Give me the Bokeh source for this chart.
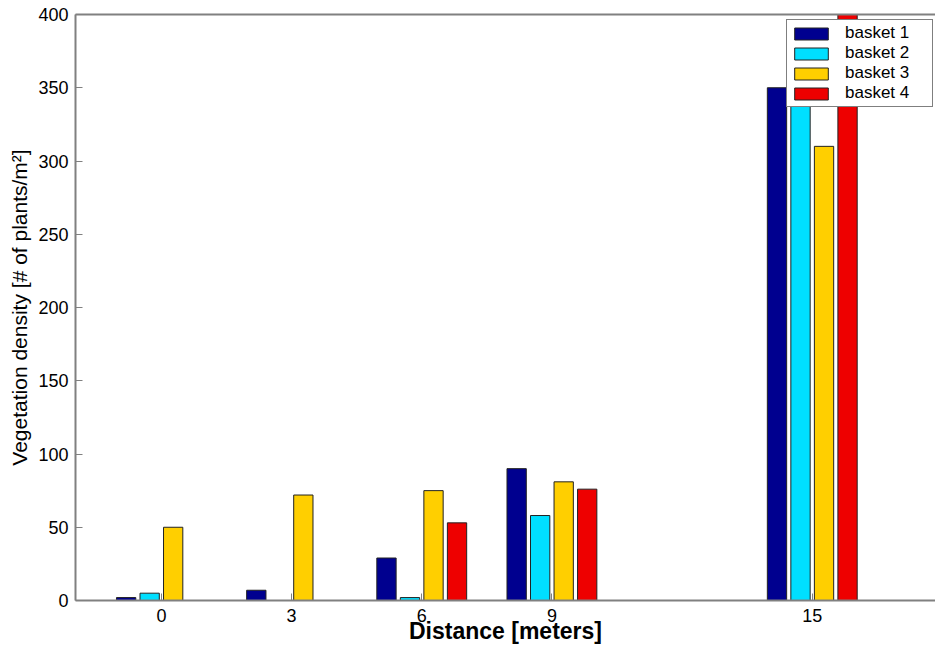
import numpy as np
from bokeh.plotting import figure
from bokeh.models import (Range1d, LinearAxis, FixedTicker, Legend, LegendItem)
from bokeh.embed import file_html
from bokeh.resources import INLINE

# ---- data ----
distances = [0, 3, 6, 9, 15]
tick_values = [0, 3, 6, 9, 15]
y_ticks = [0, 50, 100, 150, 200, 250, 300, 350, 400]
series_names = ["basket 1", "basket 2", "basket 3", "basket 4"]
basket1 = [2, 7, 29, 90, 350]
basket2 = [5, 0, 2, 58, 365]
basket3 = [50, 72, 75, 81, 310]
basket4 = [0, 0, 53, 76, 420]
colors = ["#00008F", "#00DFFF", "#FFCF00", "#EE0000"]

series = [basket1, basket2, basket3, basket4]

FONT = "Liberation Sans"

p = figure(width=935, height=646, output_backend="svg", toolbar_location=None,
           x_range=Range1d(-1.98, 17.84), y_range=Range1d(0, 400),
           min_border_left=75, min_border_right=0, min_border_top=14,
           min_border_bottom=45, x_axis_location=None, y_axis_location=None)
p.outline_line_color = None
p.xgrid.visible = False
p.ygrid.visible = False
p.background_fill_color = "white"
p.border_fill_color = "white"

step = 0.542
bar_w = 0.445
renderers = []
for i, (vals, col) in enumerate(zip(series, colors)):
    xs = np.array(distances, dtype=float) + (i - 1.5) * step
    r = p.vbar(x=xs, top=vals, bottom=0, width=bar_w, fill_color=col,
               line_color="#222222", line_width=1)
    renderers.append(r)

def style_axis(ax, ticks, show_labels=True):
    ax.ticker = FixedTicker(ticks=ticks)
    ax.axis_line_color = "#808080"
    ax.axis_line_width = 2
    ax.major_tick_line_color = "#808080"
    ax.major_tick_in = 7
    ax.major_tick_out = 0
    ax.minor_tick_line_color = None
    ax.major_label_text_font = FONT
    ax.major_label_text_font_size = "18px" if show_labels else "0px"
    ax.major_label_text_color = "black"
    ax.axis_label_text_font = FONT
    ax.axis_label_text_color = "black"

xaxis = LinearAxis()
style_axis(xaxis, tick_values)
xaxis.major_label_standoff = 8
xaxis.axis_label = "Distance [meters]"
xaxis.axis_label_text_font_style = "bold"
xaxis.axis_label_text_font_size = "23px"
xaxis.axis_label_standoff = -7
p.add_layout(xaxis, "below")

yaxis = LinearAxis()
style_axis(yaxis, y_ticks)
yaxis.major_label_standoff = 7
yaxis.axis_label = "Vegetation density [# of plants/m²]"
yaxis.axis_label_text_font_style = "normal"
yaxis.axis_label_text_font_size = "21px"
yaxis.axis_label_standoff = 4
p.add_layout(yaxis, "left")

top_axis = LinearAxis()
style_axis(top_axis, [], show_labels=False)
top_axis.major_label_standoff = 0
p.add_layout(top_axis, "above")

legend = Legend(items=[LegendItem(label=n, renderers=[r]) for n, r in zip(series_names, renderers)],
                location=(711, 493))
legend.border_line_color = "black"
legend.border_line_width = 1
legend.background_fill_color = "white"
legend.background_fill_alpha = 1.0
legend.padding = 3
legend.margin = 0
legend.spacing = 0
legend.label_height = 20
legend.label_width = 84
legend.glyph_height = 15
legend.glyph_width = 42
legend.label_standoff = 13
legend.label_text_font = FONT
legend.label_text_font_size = "17px"
legend.label_text_color = "black"
p.add_layout(legend)

open("out.html", "w").write(file_html(p, INLINE))
